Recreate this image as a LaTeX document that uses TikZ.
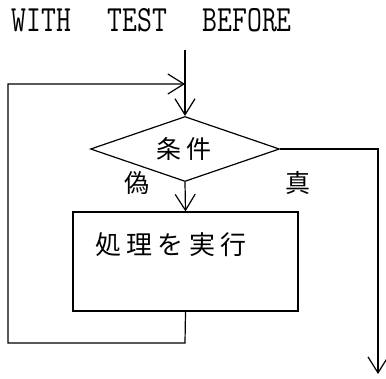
\documentclass[tikz,border=0pt]{standalone}
\usepackage{fontspec}
\newfontfamily\jpfont[LetterSpace=20]{Noto Sans CJK JP}
\usetikzlibrary{shapes.geometric,arrows.meta}
\begin{document}
\begin{tikzpicture}[x=1pt,y=-1pt,
  line width=1.2pt,
  flow/.style={-{Straight Barb[length=16pt,width=20pt,line width=1.2pt]}},
  ttl/.style={anchor=base west,inner sep=0pt,font=\ttfamily\fontsize{37}{37}\selectfont},
  jp/.style={inner sep=0pt,font=\jpfont\fontsize{25}{25}\selectfont}]
\useasboundingbox (0,0) rectangle (386,378);
% title
\node[ttl] (t1) at (11,31) {\scalebox{0.78}[1]{WITH}};
\node[ttl] (t2) at (107,31) {\scalebox{0.78}[1]{TEST}};
\node[ttl] (t3) at (202,31) {\scalebox{0.78}[1]{BEFORE}};
% shapes
\node[draw,diamond,minimum width=189pt,minimum height=65pt,inner sep=0pt,aspect=2.9] (cond) at (185,149) {};
\node[jp] (condtxt) at (184,149) {条件};
\node[draw,rectangle,minimum width=225pt,minimum height=99pt,inner sep=0pt] (proc) at (185.5,261.5) {};
\node[jp,font=\jpfont\fontsize{26}{26}\selectfont] (proctxt) at (171,245) {処理を実行};
\node[jp] (false) at (137,183) {偽};
\node[jp] (true) at (298,183) {真};
% coordinates
\coordinate (top) at (185,50);
\coordinate (join) at (185,84);
\coordinate (bl) at (185,343);
\coordinate (bll) at (8,343);
\coordinate (tl) at (8,84);
\coordinate (rt) at (378,149);
\coordinate (exit) at (378,374);
% connectors
\draw[flow] (top) -- (cond.north);
\draw[flow] (proc.south) -- (bl) -- (bll) -- (tl) -- (join);
\draw[flow] (cond.south) -- (proc.north);
\draw[flow] (cond.east) -- (rt) -- (exit);
\end{tikzpicture}
\end{document}
